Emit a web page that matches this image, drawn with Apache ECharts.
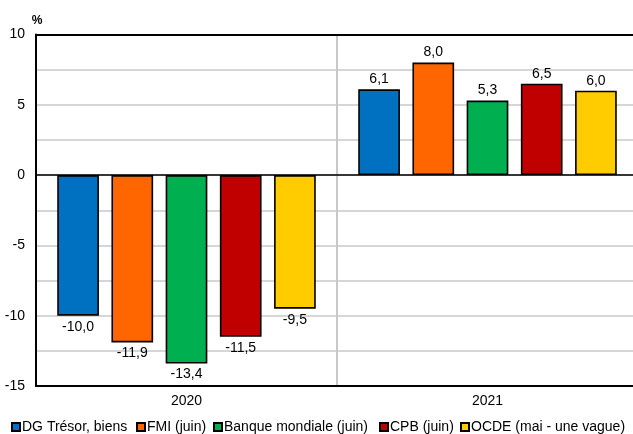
<!DOCTYPE html>
<html>
<head>
<meta charset="utf-8">
<script src="https://cdn.jsdelivr.net/npm/echarts@6/dist/echarts.min.js"></script>
<style>
  html, body { margin: 0; padding: 0; background: #fff; overflow: hidden; }
  /* the plot runs slightly past the right edge of the window */
  #chart { width: 638px; height: 434px; }
</style>
</head>
<body>
<div id="chart"></div>
<script>
// Growth forecasts by institution, in %
const years = ['2020', '2021'];
const seriesNames = ['DG Trésor, biens', 'FMI (juin)', 'Banque mondiale (juin)', 'CPB (juin)', 'OCDE (mai - une vague)'];
const seriesColors = ['#0070C0', '#FF6600', '#00B050', '#C00000', '#FFCC00'];
const dgTresor = [-10.0, 6.1];
const fmi = [-11.9, 8.0];
const banqueMondiale = [-13.4, 5.3];
const cpb = [-11.5, 6.5];
const ocde = [-9.5, 6.0];
const seriesValues = [dgTresor, fmi, banqueMondiale, cpb, ocde];

// left edge of each legend entry along the bottom row
const legendLefts = [11, 136, 213, 379, 460];

const FONT = 'Liberation Sans, Arial, sans-serif';
const fmt = v => v.toFixed(1).replace('.', ',');

const chart = echarts.init(document.getElementById('chart'), null, { renderer: 'canvas' });

const series = seriesNames.map((name, i) => ({
  name,
  type: 'bar',
  data: seriesValues[i].map(v => ({
    value: v,
    label: v >= 0 ? { position: 'top', distance: 3 } : { position: 'bottom', distance: 4 }
  })),
  barWidth: 41.7,
  barGap: '30%',
  itemStyle: { color: seriesColors[i], borderColor: '#000', borderWidth: 1.6 },
  label: {
    show: true,
    color: '#000',
    fontFamily: FONT,
    fontSize: 14,
    formatter: p => fmt(p.value)
  },
  emphasis: { disabled: true },
  markLine: i === 0 ? {
    silent: true,
    symbol: 'none',
    label: { show: false },
    lineStyle: { color: '#000', width: 1.5, type: 'solid' },
    data: [{ yAxis: 0 }]
  } : undefined
}));

// one legend per entry so each sits at its own spot on the row
const legends = seriesNames.map((name, i) => ({
  top: 420,
  left: legendLefts[i],
  padding: 0,
  icon: 'rect',
  itemWidth: 8,
  itemHeight: 8,
  textStyle: { fontFamily: FONT, fontSize: 14, color: '#000', padding: [0, 0, 0, -3] },
  data: [name]
}));

chart.setOption({
  animation: false,
  grid: { left: 36, right: 0, top: 34.5, bottom: 48 },
  legend: legends,
  xAxis: [{
    type: 'category',
    data: years,
    position: 'bottom',
    axisLine: { onZero: false, lineStyle: { color: '#000', width: 2 } },
    axisTick: { show: false },
    axisLabel: { color: '#000', fontFamily: FONT, fontSize: 14, margin: 8 },
    splitLine: { show: true, lineStyle: { color: '#c8c8c8', width: 2 } }
  }, {
    type: 'category',
    data: years,
    position: 'top',
    axisLine: { onZero: false, lineStyle: { color: '#000', width: 2 } },
    axisTick: { show: false },
    axisLabel: { show: false }
  }],
  yAxis: {
    type: 'value',
    min: -15,
    max: 10,
    interval: 2.5,
    name: '%',
    nameGap: 8,
    nameTextStyle: { color: '#000', fontFamily: FONT, fontSize: 12, fontWeight: 'bold', padding: [0, 0, 0, 2] },
    axisLine: { show: true, lineStyle: { color: '#000', width: 2 } },
    axisTick: { show: false },
    axisLabel: {
      color: '#000', fontFamily: FONT, fontSize: 14, margin: 11,
      formatter: v => (v % 5 === 0 ? String(v) : '')
    },
    splitLine: { show: true, lineStyle: { color: '#c8c8c8', width: 1.5 } }
  },
  series
});
</script>
</body>
</html>
